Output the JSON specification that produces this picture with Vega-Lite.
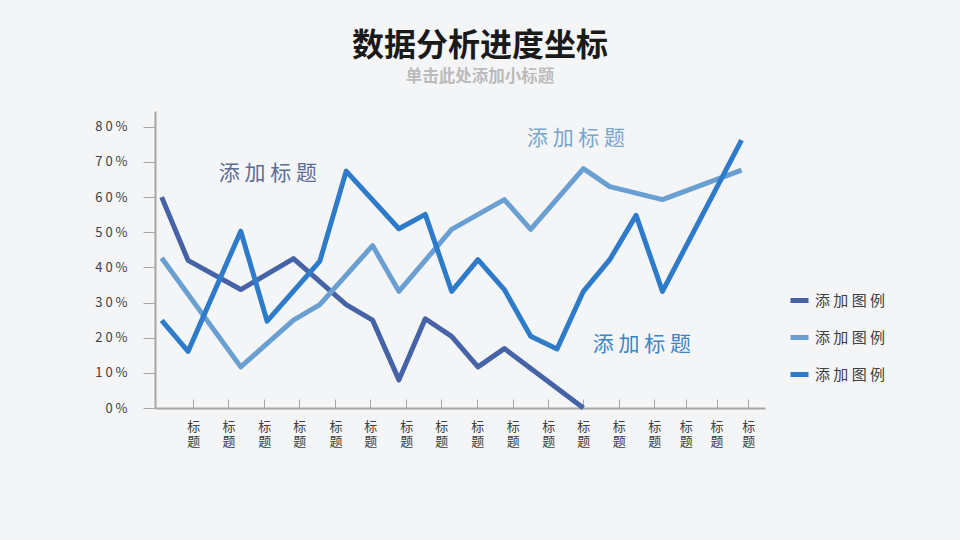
{
  "$schema": "https://vega.github.io/schema/vega-lite/v6.json",
  "width": 610,
  "height": 297,
  "autosize": "none",
  "padding": {"left": 155, "top": 111, "right": 195, "bottom": 132},
  "background": "#F4F5F7",
  "title": {
    "text": "数据分析进度坐标",
    "subtitle": "单击此处添加小标题",
    "anchor": "middle",
    "dx": 20,
    "offset": 25,
    "font": "Noto Sans CJK SC",
    "fontSize": 32,
    "fontWeight": "bold",
    "color": "#1A1A1A",
    "subtitleFont": "Noto Sans CJK SC",
    "subtitleFontSize": 16.5,
    "subtitleFontWeight": "bold",
    "subtitleColor": "#BBBBBB",
    "subtitlePadding": 6
  },
  "config": {
    "view": {"stroke": null},
    "font": "Noto Sans CJK SC",
    "axis": {"labelOverlap": false, "labelBound": false}
  },
  "datasets": {
    "lines": [
      {"series": "s1", "x": 0, "v": 0.60},
      {"series": "s1", "x": 1, "v": 0.42},
      {"series": "s1", "x": 3, "v": 0.337},
      {"series": "s1", "x": 5, "v": 0.425},
      {"series": "s1", "x": 7, "v": 0.294},
      {"series": "s1", "x": 8, "v": 0.25},
      {"series": "s1", "x": 9, "v": 0.08},
      {"series": "s1", "x": 10, "v": 0.254},
      {"series": "s1", "x": 11, "v": 0.204},
      {"series": "s1", "x": 12, "v": 0.117},
      {"series": "s1", "x": 13, "v": 0.169},
      {"series": "s1", "x": 16, "v": 0.0},
      {"series": "s2", "x": 0, "v": 0.427},
      {"series": "s2", "x": 3, "v": 0.117},
      {"series": "s2", "x": 5, "v": 0.25},
      {"series": "s2", "x": 6, "v": 0.294},
      {"series": "s2", "x": 8, "v": 0.462},
      {"series": "s2", "x": 9, "v": 0.332},
      {"series": "s2", "x": 11, "v": 0.508},
      {"series": "s2", "x": 13, "v": 0.593},
      {"series": "s2", "x": 14, "v": 0.508},
      {"series": "s2", "x": 16, "v": 0.681},
      {"series": "s2", "x": 17, "v": 0.63},
      {"series": "s2", "x": 19, "v": 0.593},
      {"series": "s2", "x": 22, "v": 0.677},
      {"series": "s3", "x": 0, "v": 0.249},
      {"series": "s3", "x": 1, "v": 0.161},
      {"series": "s3", "x": 3, "v": 0.503},
      {"series": "s3", "x": 4, "v": 0.247},
      {"series": "s3", "x": 6, "v": 0.418},
      {"series": "s3", "x": 7, "v": 0.674},
      {"series": "s3", "x": 9, "v": 0.51},
      {"series": "s3", "x": 10, "v": 0.551},
      {"series": "s3", "x": 11, "v": 0.332},
      {"series": "s3", "x": 12, "v": 0.422},
      {"series": "s3", "x": 13, "v": 0.337},
      {"series": "s3", "x": 14, "v": 0.204},
      {"series": "s3", "x": 15, "v": 0.168},
      {"series": "s3", "x": 16, "v": 0.332},
      {"series": "s3", "x": 17, "v": 0.422},
      {"series": "s3", "x": 18, "v": 0.548},
      {"series": "s3", "x": 19, "v": 0.332},
      {"series": "s3", "x": 22, "v": 0.762}
    ],
    "notes": [
      {"series": "s1", "x": 4.03, "v": 0.667, "label": "添 加 标 题"},
      {"series": "s2", "x": 15.72, "v": 0.764, "label": "添 加 标 题"},
      {"series": "s3", "x": 18.22, "v": 0.18, "label": "添 加 标 题"}
    ]
  },
  "layer": [
    {
      "data": {"name": "lines"},
      "mark": {"type": "line", "strokeWidth": 5, "strokeJoin": "round", "strokeCap": "butt"},
      "encoding": {
        "x": {
          "field": "x", "type": "quantitative",
          "scale": {"domain": [-0.254, 22.89], "nice": false, "zero": false},
          "axis": {
            "values": [1.2, 2.53, 3.89, 5.22, 6.59, 7.91, 9.28, 10.61, 11.97, 13.32, 14.67, 15.99, 17.34, 18.69, 19.88, 21.05, 22.25],
            "tickCount": 40,
            "labelExpr": "['标', '题']",
            "title": null, "grid": false,
            "tickSize": -9, "tickColor": "#A6A6A6", "tickWidth": 1,
            "domainColor": "#A6A6A6", "domainWidth": 2,
            "labelFontSize": 13, "labelColor": "#404040",
            "labelPadding": 21, "labelLineHeight": 15, "labelBaseline": "top",
            "labelAngle": 0, "labelFlush": false, "labelOverlap": false
          }
        },
        "y": {
          "field": "v", "type": "quantitative",
          "scale": {"domain": [0, 0.845], "nice": false},
          "axis": {
            "values": [0, 0.1, 0.2, 0.3, 0.4, 0.5, 0.6, 0.7, 0.8],
            "tickCount": 20,
            "labelExpr": "datum.value < 0.05 ? '0 %' : format(datum.value * 10, 'd') + ' 0 %'",
            "title": null, "grid": false,
            "tickSize": 12, "tickColor": "#A6A6A6", "tickWidth": 1,
            "domainColor": "#A6A6A6", "domainWidth": 2,
            "labelFontSize": 13, "labelColor": "#404040", "labelPadding": 16,
            "labelOverlap": false
          }
        },
        "color": {
          "field": "series", "type": "nominal",
          "scale": {"domain": ["s1", "s2", "s3"], "range": ["#4563A6", "#6A9FD2", "#2E7BC9"]},
          "legend": {
            "orient": "none", "legendX": 633, "legendY": 178,
            "title": null, "symbolType": "stroke", "symbolSize": 324,
            "symbolStrokeWidth": 5, "labelExpr": "'添 加 图 例'",
            "labelFontSize": 15, "labelColor": "#404040",
            "rowPadding": 15, "labelOffset": 4, "padding": 0
          }
        }
      }
    },
    {
      "data": {"name": "notes"},
      "mark": {"type": "text", "fontSize": 21, "font": "Noto Sans CJK SC", "align": "center", "baseline": "middle"},
      "encoding": {
        "x": {"field": "x", "type": "quantitative"},
        "y": {"field": "v", "type": "quantitative"},
        "text": {"field": "label"},
        "color": {
          "field": "series", "type": "nominal",
          "scale": {"domain": ["s1", "s2", "s3"], "range": ["#5A6F96", "#7AA6CB", "#3A86C6"]},
          "legend": null
        }
      }
    }
  ],
  "resolve": {"scale": {"color": "independent"}}
}
